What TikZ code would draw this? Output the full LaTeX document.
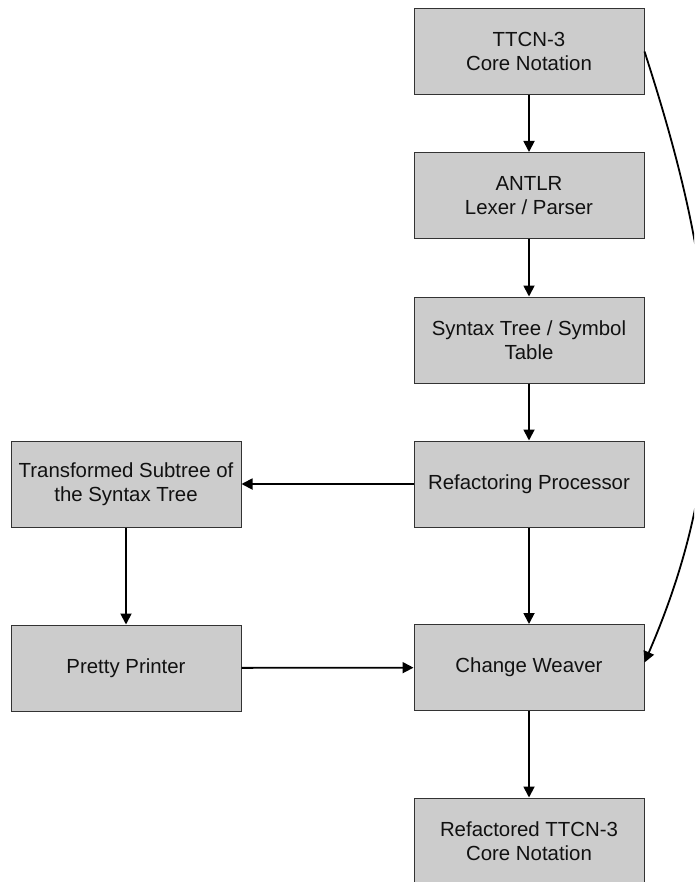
\documentclass[tikz,border=0pt]{standalone}
\usepackage{fontspec}
\setmainfont{Liberation Sans}
\usetikzlibrary{arrows.meta}
\definecolor{boxfill}{HTML}{CCCCCC}
\definecolor{boxline}{HTML}{333333}
\definecolor{txt}{HTML}{111111}
\begin{document}
\begin{tikzpicture}[x=1pt,y=-1pt,
  blk/.style={draw=boxline, line width=1pt, fill=boxfill, minimum width=230pt, minimum height=86pt,
    inner sep=0pt, align=center, text=txt, font=\fontsize{20.4}{24.5}\selectfont},
  conn/.style={line width=1.8pt, -{Triangle[length=11pt,width=11pt]}}]
\useasboundingbox (0,0) rectangle (694,882);
\clip (0,0) rectangle (694,882);
\fill[white] (0,0) rectangle (694,882);
\node[blk] (ttcn) at (529,51.5) {TTCN-3\\Core Notation};
\node[blk] (antlr) at (529,195.5) {ANTLR\\Lexer / Parser};
\node[blk] (syn) at (529,340) {Syntax Tree / Symbol\\Table};
\node[blk] (rp) at (529,484) {Refactoring Processor};
\node[blk] (cw) at (529,667.5) {Change Weaver};
\node[blk] (rtt) at (529,841) {Refactored TTCN-3\\Core Notation};
\node[blk] (ts) at (126,484) {Transformed Subtree of\\the Syntax Tree};
\node[blk] (pp) at (126,668) {Pretty Printer};
\draw[conn] (ttcn) -- (antlr);
\draw[conn] (antlr) -- (syn);
\draw[conn] (syn) -- (rp);
\draw[conn] (rp) -- (cw);
\draw[conn] (cw) -- (rtt);
\draw[conn] (rp) -- (ts);
\draw[conn] (ts) -- (pp);
\draw[conn] (pp) -- (cw);
\draw[conn] (ttcn.east) .. controls (716,272) and (740,442) .. ([yshift=5pt]cw.east);
\end{tikzpicture}
\end{document}
